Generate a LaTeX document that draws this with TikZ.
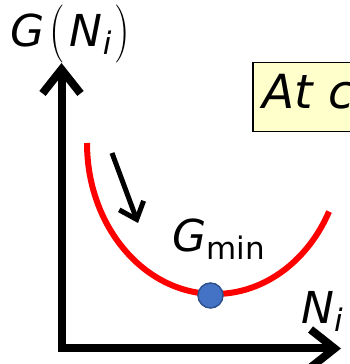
\documentclass[tikz,border=0pt]{standalone}
\usepackage{fontspec}
\setmainfont{DejaVu Sans}
\usepackage{graphicx}
\usetikzlibrary{arrows.meta}
\definecolor{boxyellow}{HTML}{FFFFCC}
\definecolor{dotblue}{HTML}{4472C4}
\definecolor{dotedge}{HTML}{2F528F}
\newcommand{\tallparen}[1]{\raisebox{-2pt}{\scalebox{1}[1.32]{\fontfamily{lmr}\upshape\selectfont #1}}}
\newcommand{\lowsub}[1]{\raisebox{-8pt}{\fontsize{31}{31}\selectfont #1}}

\begin{document}
\begin{tikzpicture}[x=1pt,y=1pt,
  lbl/.style={inner sep=0pt,font=\fontsize{44}{44}\selectfont\itshape},
  axis/.style={line width=8pt,line join=miter},
  axisbarb/.tip={Straight Barb[length=24pt,width=38pt]}]
  \useasboundingbox (0,0) rectangle (349,364);
  \coordinate (orig) at (61.5,15.5);
  \coordinate (ytip) at (61.5,301);
  \coordinate (xtip) at (341,15.5);
  \draw[axis,axisbarb-axisbarb] (ytip) -- (orig) -- (xtip);
  \node[lbl,anchor=base west] (gfun) at (10,317) {G\hspace{5pt}\tallparen{(}\hspace{5pt}N\lowsub{i}\hspace{3pt}\tallparen{)}};
  \node[lbl,anchor=base west] (nlab) at (301,40) {N\lowsub{i}};
  \node[anchor=north west,draw=black,line width=1.5pt,fill=boxyellow,
        inner xsep=10pt,inner ysep=10pt,text height=36pt,text depth=13pt,
        text width=160pt,font=\fontsize{47}{47}\selectfont\itshape] (note) at (252,302) {At c};
  \draw[red,line width=6pt] (87,221) arc[start angle=180,end angle=333,x radius=128,y radius=151];
  \coordinate (slideA) at (112,211);
  \coordinate (slideB) at (138,141);
  \draw[line width=5pt,-{Straight Barb[length=15pt,width=26pt]}] (slideA) -- (slideB);
  \node[lbl,anchor=base west] (gmin) at (172,112) {G\lowsub{\upshape min}};
  \node[circle,fill=dotblue,draw=dotedge,line width=1.5pt,minimum size=25pt,inner sep=0pt] (mindot) at (210.5,68.5) {};
\end{tikzpicture}
\end{document}
